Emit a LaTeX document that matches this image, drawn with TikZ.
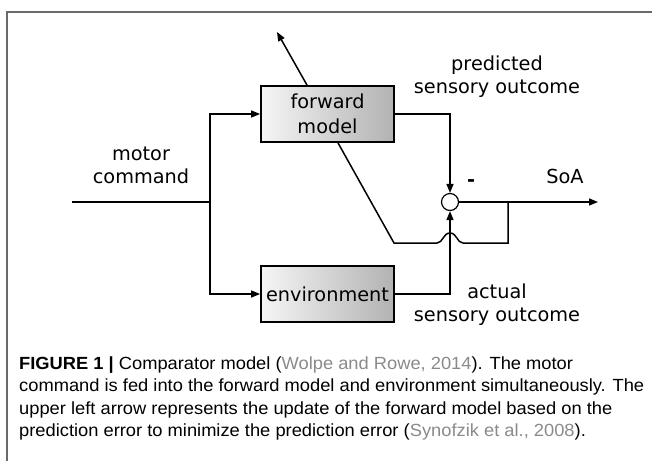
\documentclass[tikz,border=0pt]{standalone}
\usepackage{fontspec}
\setmainfont{Liberation Sans}[FakeStretch=1.04]
\newfontfamily\diagfont{DejaVu Sans}
\usetikzlibrary{arrows.meta}
\definecolor{citegray}{HTML}{8A8A8A}
\definecolor{framegray}{HTML}{6A6A6A}
\newcommand{\cit}[1]{\textcolor{citegray}{#1}}
\begin{document}
\begin{tikzpicture}[x=1pt,y=-1pt,
  lbl/.style={font=\diagfont\fontsize{19.3}{23}\selectfont, anchor=base, inner sep=0},
  blk/.style={draw, line width=1.8pt, minimum width=133pt, minimum height=56pt,
    left color=gray!8, right color=gray!60, align=center,
    font=\diagfont\fontsize{19.3}{25}\selectfont, inner sep=0},
  wire/.style={line width=1.5pt},
  arr/.style={wire, -{Triangle[length=9pt,width=7pt]}},
  capline/.style={anchor=base west, inner sep=0, font=\fontsize{17.6}{22.5}\selectfont}
]
\useasboundingbox (0,0) rectangle (652,461);
\draw[framegray, line width=1.5pt] (652,12) -- (7,12) -- (7,461);

\node[blk] (fwd) at (327.5,114) {forward\\model};
\node[blk] (env) at (327.5,294) {environment};
\node[draw, circle, line width=1.2pt, minimum size=17pt, inner sep=0, fill=white] (cmp) at (450,202) {};

\coordinate (mc) at (72,202);
\coordinate (br) at (210,202);
\coordinate (upend) at (277,32);
\coordinate (soa) at (598,202);
\coordinate (fb) at (508,202);

\draw[wire] (mc) -- (br);
\draw[arr] (br) |- (fwd.west);
\draw[arr] (br) |- (env.west);
\draw[arr] (fwd.east) -| (cmp.north);
\draw[arr] (env.east) -| (cmp.south);
\draw[arr] (cmp.east) -- (soa);
\draw[arr] ([xshift=-20.5pt]fwd.north) -- (upend);
\draw[wire] (fb) -- (508,243) -- (463,243)
  .. controls (457,243) and (457,233) .. (450,233)
  .. controls (443,233) and (443,243) .. (437,243)
  -- (394,243) -- ([xshift=10.5pt]fwd.south);

\node[lbl] (pred1) at (497,70) {predicted};
\node[lbl] (pred2) at (497,93) {sensory outcome};
\node[lbl] (mot1) at (141,160) {motor};
\node[lbl] (mot2) at (141,183) {command};
\node[lbl] (soal) at (565,183) {SoA};
\node[lbl, font=\diagfont\bfseries\fontsize{19.3}{23}\selectfont] (minus) at (471,186) {-};
\node[lbl] (act1) at (497,298) {actual};
\node[lbl] (act2) at (497,321) {sensory outcome};

\node[capline] (cap1) at (19,369) {\textbf{FIGURE 1 |} Comparator model (\cit{Wolpe and Rowe, 2014}). The motor};
\node[capline] (cap2) at (19,391.5) {command is fed into the forward model and environment simultaneously. The};
\node[capline] (cap3) at (19,414) {upper left arrow represents the update of the forward model based on the};
\node[capline] (cap4) at (19,436.5) {prediction error to minimize the prediction error (\cit{Synofzik et al., 2008}).};
\end{tikzpicture}
\end{document}
